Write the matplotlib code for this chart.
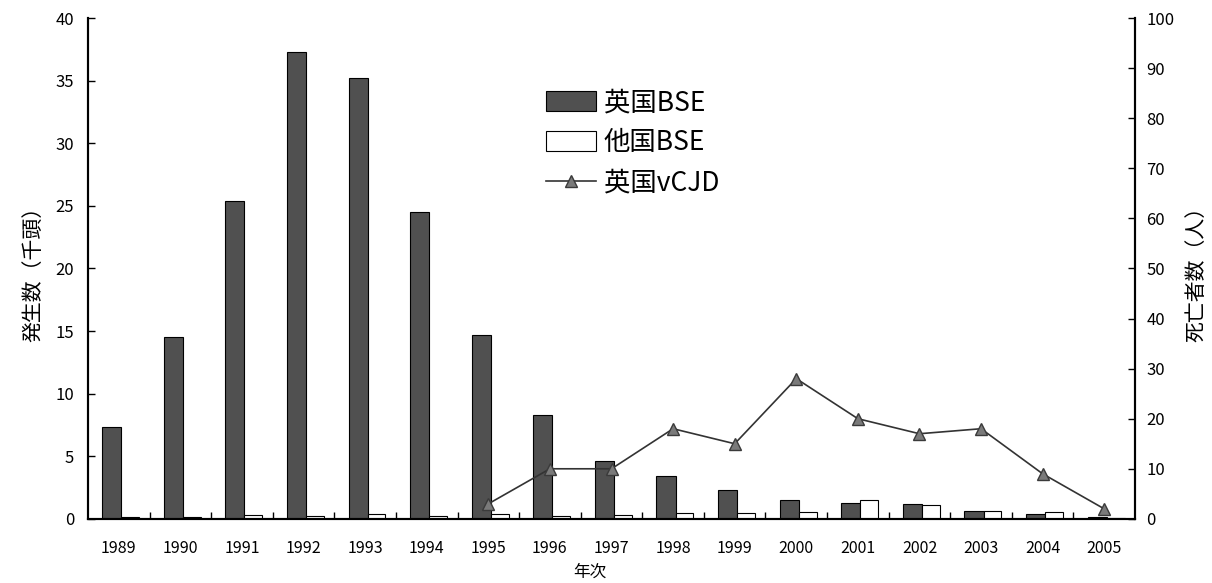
import numpy as np
import matplotlib
matplotlib.use('Agg')
import matplotlib.pyplot as plt
from matplotlib.ticker import FixedLocator, MultipleLocator

plt.rcParams['font.family'] = ['Noto Sans CJK JP', 'DejaVu Sans']

# --- data ---
years = ['1989', '1990', '1991', '1992', '1993', '1994', '1995', '1996', '1997',
         '1998', '1999', '2000', '2001', '2002', '2003', '2004', '2005']
uk_bse = [7.3, 14.5, 25.4, 37.3, 35.2, 24.5, 14.7, 8.3, 4.6,
          3.4, 2.3, 1.5, 1.3, 1.2, 0.65, 0.4, 0.15]          # thousand head
other_bse = [0.15, 0.15, 0.3, 0.25, 0.4, 0.25, 0.35, 0.25, 0.3,
             0.45, 0.45, 0.55, 1.5, 1.1, 0.65, 0.55, 0.1]    # thousand head
vcjd_years = ['1995', '1996', '1997', '1998', '1999', '2000',
              '2001', '2002', '2003', '2004', '2005']
vcjd_deaths = [3, 10, 10, 18, 15, 28, 20, 17, 18, 9, 2]

x = np.arange(len(years))
vx = np.array([years.index(y) for y in vcjd_years])

fig = plt.figure(figsize=(12.12, 5.83), dpi=100)
ax = fig.add_axes([0.0726, 0.110, 0.8639, 0.859])
ax2 = ax.twinx()

bw = 0.31
h1 = ax.bar(x - 0.27, uk_bse, width=bw, align='edge', color='#505050',
            edgecolor='black', linewidth=0.8, label='英国BSE', zorder=2)
h2 = ax.bar(x + 0.04, other_bse, width=0.29, align='edge', color='white',
            edgecolor='black', linewidth=0.8, label='他国BSE', zorder=2)

h3, = ax2.plot(vx, vcjd_deaths, color='#333333', linewidth=1.2, marker='^',
               markersize=9, markerfacecolor='#7a7a7a', markeredgecolor='#3a3a3a',
               label='英国vCJD')

ax.set_xlim(-0.5, len(years) - 0.5)
ax.set_ylim(0, 40)
ax2.set_ylim(0, 100)
ax.yaxis.set_major_locator(MultipleLocator(5))
ax2.yaxis.set_major_locator(MultipleLocator(10))

ax.set_xticks(x)
ax.set_xticklabels(years)
ax.xaxis.set_minor_locator(FixedLocator(np.arange(0.5, len(years) - 1, 1.0)))
ax.tick_params(axis='x', which='major', length=0, labelsize=11.5, pad=15)
ax.tick_params(axis='x', which='minor', direction='in', length=5, width=1)
ax.tick_params(axis='y', direction='in', length=5, width=1, labelsize=12, pad=10)
ax2.tick_params(axis='y', direction='in', length=5, width=1, labelsize=12, pad=8)

for a in (ax, ax2):
    for s in a.spines.values():
        s.set_linewidth(1.5)
ax.spines['top'].set_visible(False)
ax2.spines['top'].set_visible(False)

ax.set_ylabel('発生数（千頭）', fontsize=15, labelpad=8)
ax2.set_ylabel('死亡者数（人）', fontsize=15, labelpad=8)
ax.set_xlabel('年次', fontsize=12)
ax.xaxis.set_label_coords(0.479, -0.09)

leg = ax2.legend(handles=[h1, h2, h3], loc='upper left',
                 bbox_to_anchor=(0.4415, 0.865), bbox_transform=fig.transFigure,
                 frameon=False, fontsize=19, handlelength=1.9, handleheight=0.8,
                 handletextpad=0.3, labelspacing=0.5, borderaxespad=0)

fig.savefig('out.png', dpi=100)
